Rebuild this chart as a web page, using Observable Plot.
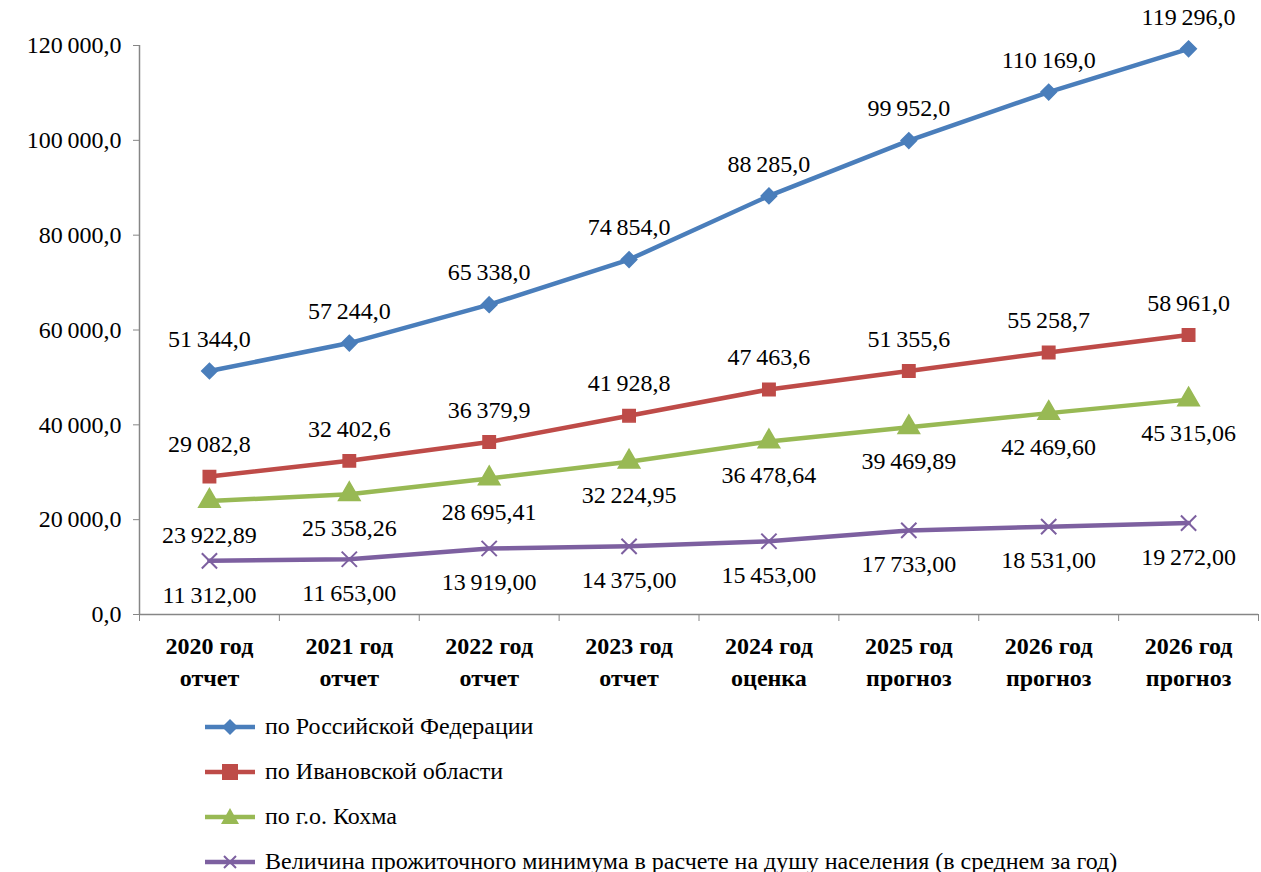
<!DOCTYPE html>
<html><head><meta charset="utf-8">
<script src="https://cdn.jsdelivr.net/npm/d3@7"></script>
<script src="https://cdn.jsdelivr.net/npm/@observablehq/plot@0.6"></script>
</head><body style="margin:0;background:#fff">
<div id="chart"></div>
<div id="legend" style="padding-left:205px;padding-top:4px;font-family:'Liberation Serif' !important"></div>
<script>
const categories = ["2020 год\nотчет","2021 год\nотчет","2022 год\nотчет","2023 год\nотчет","2024 год\nоценка","2025 год\nпрогноз","2026 год\nпрогноз","2026 год\nпрогноз"];
const seriesNames = ["по Российской Федерации","по Ивановской области","по г.о. Кохма","Величина прожиточного минимума в расчете на душу населения (в среднем за год)"];
const rf = [51344.0, 57244.0, 65338.0, 74854.0, 88285.0, 99952.0, 110169.0, 119296.0];
const ivanovo = [29082.8, 32402.6, 36379.9, 41928.8, 47463.6, 51355.6, 55258.7, 58961.0];
const kokhma = [23922.89, 25358.26, 28695.41, 32224.95, 36478.64, 39469.89, 42469.60, 45315.06];
const minimum = [11312.00, 11653.00, 13919.00, 14375.00, 15453.00, 17733.00, 18531.00, 19272.00];
const yTicks = [0, 20000, 40000, 60000, 80000, 100000, 120000];

const colors = ["#4a7ebb", "#be4b48", "#98b954", "#7d60a0"];
const symbols = ["diamond2", "square", "triangle", "times"];
const decimals = [1, 1, 2, 2];
const above = [true, true, false, false];

const loc = d3.formatLocale({decimal: ",", thousands: "\u2009", grouping: [3], currency: ["", ""]});
const fmt1 = loc.format(",.1f");
const fmt2 = loc.format(",.2f");

const all = [rf, ivanovo, kokhma, minimum];
const data = [];
all.forEach((arr, s) => arr.forEach((v, i) => data.push({s, i, v})));

const font = "Liberation Serif";
const marks = [];
marks.push(Plot.axisY(yTicks, {label: null, tickFormat: fmt1, tickSize: 6, tickPadding: 12, fontSize: 24, fontFamily: font, stroke: "#868686", color: "#000"}));
marks.push(Plot.ruleX([-0.5], {stroke: "#868686", strokeWidth: 1.5}));
marks.push(Plot.ruleY([0], {stroke: "#868686", strokeWidth: 1.5}));
marks.push(Plot.axisX(d3.range(-0.5, 8, 1), {label: null, tickSize: 7, tickFormat: () => "", stroke: "#868686"}));
marks.push(Plot.axisX(d3.range(8), {label: null, tickSize: 0, tickPadding: 16, tickFormat: i => categories[i], fontSize: 24, fontFamily: font, fontWeight: "bold", lineHeight: 1.35}));

all.forEach((arr, s) => {
  const d = data.filter(r => r.s === s);
  marks.push(Plot.line(d, {x: "i", y: "v", stroke: colors[s], strokeWidth: 4.5}));
  if (symbols[s] === "times") {
    marks.push(Plot.dot(d, {x: "i", y: "v", symbol: "times", stroke: colors[s], strokeWidth: 2, r: 7}));
  } else {
    marks.push(Plot.dot(d, {x: "i", y: "v", symbol: symbols[s], fill: colors[s], stroke: colors[s], r: symbols[s]==="triangle" ? 8 : 7}));
  }
  marks.push(Plot.text(d, {x: "i", y: "v", text: r => (decimals[s] === 1 ? fmt1 : fmt2)(r.v), dy: above[s] ? -32 : 34, fontSize: 24, fontFamily: font, fill: "#000"}));
});

const chart = Plot.plot({
  width: 1261, height: 700,
  marginTop: 45, marginBottom: 86, marginLeft: 139, marginRight: 3,
  style: {background: "#fff", overflow: "visible"},
  x: {domain: [-0.5, 7.5], axis: null},
  y: {domain: [0, 120000], axis: null},
  marks
});
chart.querySelectorAll("text, g").forEach(t => t.style.setProperty("font-family", "'Liberation Serif'", "important"));
document.getElementById("chart").appendChild(chart);

const leg = document.getElementById("legend");
seriesNames.forEach((n, s) => {
  const row = document.createElement("div");
  row.setAttribute("style", "display:flex;align-items:center;height:45px;font-size:24px;color:#000;");
  let sym = "";
  if (s === 0) sym = `<path d="M25,3 L33,11 L25,19 L17,11Z" fill="${colors[s]}"/>`;
  if (s === 1) sym = `<rect x="17" y="3" width="16" height="16" fill="${colors[s]}"/>`;
  if (s === 2) sym = `<path d="M25,2 L34,18 L16,18Z" fill="${colors[s]}"/>`;
  if (s === 3) sym = `<path d="M19,5 L31,17 M31,5 L19,17" stroke="${colors[s]}" stroke-width="2"/>`;
  row.innerHTML = `<svg width="52" height="22" style="margin-right:8px"><line x1="0" x2="50" y1="11" y2="11" stroke="${colors[s]}" stroke-width="4.5"/>${sym}</svg><span>${n}</span>`;
  row.querySelector("span").style.setProperty("font-family", "'Liberation Serif'", "important");
  leg.appendChild(row);
});
</script>
</body></html>
